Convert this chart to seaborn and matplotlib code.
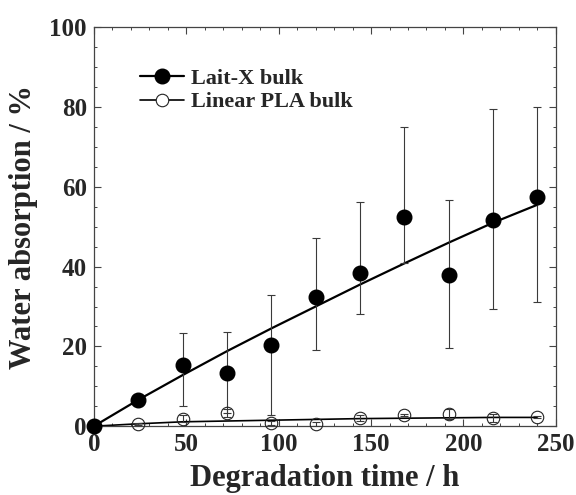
import matplotlib
matplotlib.use("Agg")
import matplotlib.pyplot as plt
from matplotlib.lines import Line2D
from matplotlib.ticker import MultipleLocator
import numpy as np
import pandas as pd
import seaborn as sns

# Data
time_h = [0, 24, 48, 72, 96, 120, 144, 168, 192, 216, 240]

laitx_mean = [0, 6.5, 15.3, 13.4, 20.3, 32.4, 38.3, 52.4, 38.0, 51.8, 57.5]
laitx_low = [0, 6.5, 5.0, 3.2, 2.9, 19.0, 28.0, 41.0, 19.6, 29.4, 31.2]
laitx_high = [0, 6.5, 23.3, 23.6, 33.0, 47.1, 56.1, 75.0, 56.6, 79.6, 80.1]
laitx_fit = [0, 6.6, 12.8, 18.8, 24.5, 30.0, 35.5, 40.8, 46.0, 51.0, 55.5]

pla_mean = [0, 0.5, 1.9, 3.4, 0.9, 0.5, 2.0, 2.8, 3.0, 2.0, 2.3]
pla_err = [0, 0.2, 0.8, 1.0, 0.5, 0.5, 0.8, 0.3, 1.3, 1.0, 0.3]
pla_fit = [0, 0.6, 1.1, 1.3, 1.5, 1.7, 1.9, 2.0, 2.1, 2.2, 2.2]

df = pd.DataFrame({
    "time": time_h,
    "laitx": laitx_mean,
    "laitx_fit": laitx_fit,
    "pla": pla_mean,
    "pla_fit": pla_fit,
})

sns.set_style("ticks")
plt.rcParams["font.family"] = ["Liberation Serif", "DejaVu Serif"]
plt.rcParams["font.weight"] = "bold"

fig = plt.figure(figsize=(5.76, 4.95), dpi=100)
ax = fig.add_axes([0.163, 0.139, 0.802, 0.806])

# fitted curves
sns.lineplot(data=df, x="time", y="laitx_fit", ax=ax, color="black", lw=1.6, zorder=2)
sns.lineplot(data=df, x="time", y="pla_fit", ax=ax, color="black", lw=1.2, zorder=2)

# error bars
m = np.array(laitx_mean)
yerr_lx = np.array([m - np.array(laitx_low), np.array(laitx_high) - m])
ax.errorbar(time_h[1:], laitx_mean[1:], yerr=yerr_lx[:, 1:],
            fmt="none", ecolor="#3a3a3a", elinewidth=0.8, capsize=3, capthick=0.8, zorder=3)
ax.errorbar(time_h[1:], pla_mean[1:], yerr=pla_err[1:],
            fmt="none", ecolor="#3a3a3a", elinewidth=0.8, capsize=3, capthick=0.8, zorder=3)

# markers
ax.plot(time_h, pla_mean, "o", ms=9, mfc="none", mec="#222222", mew=0.8,
        zorder=4, clip_on=False)
ax.plot(time_h, laitx_mean, "o", ms=10.5, mfc="black", mec="black",
        zorder=5, clip_on=False)

ax.set_xlim(0, 250)
ax.set_ylim(0, 100)
ax.xaxis.set_major_locator(MultipleLocator(50))
ax.xaxis.set_minor_locator(MultipleLocator(10))
ax.yaxis.set_major_locator(MultipleLocator(20))
ax.yaxis.set_minor_locator(MultipleLocator(5))
ax.tick_params(which="both", direction="in", top=True, right=True, color="#444444")
ax.tick_params(which="major", length=5, width=0.8, labelsize=18, pad=5)
ax.tick_params(which="minor", length=2.5, width=0.7)
for lab in ax.get_xticklabels() + ax.get_yticklabels():
    lab.set_fontweight("bold")
for s in ax.spines.values():
    s.set_linewidth(0.9)
    s.set_color("#444444")
    s.set_visible(True)

ax.set_xlabel("Degradation time / h", fontsize=22, fontweight="bold", labelpad=6)
ax.set_ylabel("Water absorption / %", fontsize=22, fontweight="bold", labelpad=8)

handles = [
    Line2D([], [], color="black", lw=1.6, marker="o", ms=10.5, mfc="black", mec="black"),
    Line2D([], [], color="black", lw=1.2, marker="o", ms=9, mfc="white", mec="#222222", mew=0.8),
]
ax.legend(handles, ["Lait-X bulk", "Linear PLA bulk"], loc="upper left",
          bbox_to_anchor=(0.08, 0.92), frameon=False,
          prop={"weight": "bold", "size": 16}, handlelength=2.0,
          handletextpad=0.3, labelspacing=0.15, borderaxespad=0)

fig.savefig("out.png", dpi=100)
